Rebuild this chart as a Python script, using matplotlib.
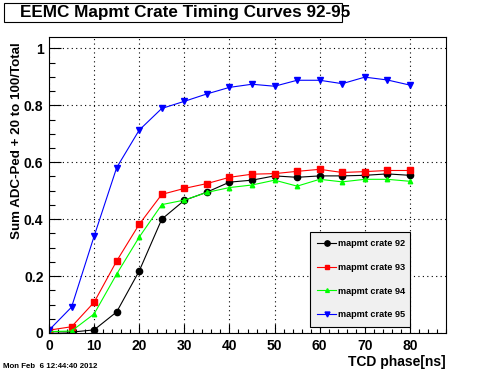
import matplotlib
matplotlib.use('Agg')
import matplotlib.pyplot as plt
from matplotlib.patches import Rectangle
from matplotlib.ticker import MultipleLocator

# TCD phase values (ns)
phase = [0, 5, 10, 15, 20, 25, 30, 35, 40, 45, 50, 55, 60, 65, 70, 75, 80]

# Sum ADC-Ped + 20 to 100 / Total, per crate
crate92 = [0.005, 0.003, 0.011, 0.074, 0.218, 0.400, 0.466, 0.495, 0.530, 0.537,
           0.552, 0.547, 0.552, 0.552, 0.554, 0.559, 0.554]
crate93 = [0.010, 0.022, 0.108, 0.253, 0.382, 0.487, 0.508, 0.525, 0.547, 0.558,
           0.560, 0.568, 0.575, 0.564, 0.567, 0.571, 0.571]
crate94 = [0.005, 0.007, 0.067, 0.207, 0.337, 0.451, 0.467, 0.494, 0.511, 0.520,
           0.537, 0.516, 0.540, 0.531, 0.540, 0.540, 0.533]
crate95 = [0.010, 0.091, 0.340, 0.581, 0.713, 0.789, 0.814, 0.840, 0.863, 0.874,
           0.867, 0.888, 0.888, 0.876, 0.899, 0.889, 0.871]

labels = ["mapmt crate 92", "mapmt crate 93", "mapmt crate 94", "mapmt crate 95"]
colors = ["black", "red", "#00ff00", "blue"]
markers = ["o", "s", "^", "v"]
msizes = [4.5, 4.2, 3.2, 4.2]

plt.rcParams['font.family'] = 'Liberation Sans'
plt.rcParams['font.weight'] = 'bold'

W, H = 496, 372
fig = plt.figure(figsize=(W / 100, H / 100), dpi=100)
ax = fig.add_axes([49 / W, 1 - 333 / H, (446 - 49) / W, (333 - 37) / H])

series = [crate92, crate93, crate94, crate95]
for vals, lab, c, m, ms in zip(series, labels, colors, markers, msizes):
    ax.plot(phase, vals, color=c, marker=m, markersize=ms, linewidth=0.8,
            markeredgecolor=c, markerfacecolor=c, label=lab)

ax.set_xlim(0, 88)
ax.set_ylim(0, 1.04)
ax.xaxis.set_major_locator(MultipleLocator(10))
ax.xaxis.set_minor_locator(MultipleLocator(2))
ax.yaxis.set_major_locator(MultipleLocator(0.2))
ax.yaxis.set_minor_locator(MultipleLocator(0.05))
ax.set_xticks([0, 10, 20, 30, 40, 50, 60, 70, 80])
ax.set_yticks([0, 0.2, 0.4, 0.6, 0.8, 1.0])
ax.set_yticklabels(["0", "0.2", "0.4", "0.6", "0.8", "1"])

ax.tick_params(axis='x', which='major', direction='in', length=6.5, width=0.8,
               labelsize=10, pad=4, top=False)
ax.tick_params(axis='x', which='minor', direction='in', length=3.2, width=0.8, top=False)
ax.tick_params(axis='y', which='major', direction='in', length=8.6, width=0.8,
               labelsize=10, pad=4, right=False)
ax.tick_params(axis='y', which='minor', direction='in', length=4.3, width=0.8, right=False)
for sp in ax.spines.values():
    sp.set_linewidth(0.8)

ax.grid(True, which='major', color='black', linestyle=(0, (1, 3)), linewidth=0.8)
ax.set_axisbelow(True)

ax.set_xlabel("TCD phase[ns]", fontsize=10, fontweight='bold')
ax.xaxis.set_label_coords(1.0, -0.075)
ax.xaxis.label.set_horizontalalignment('right')
ax.set_ylabel("Sum ADC-Ped + 20 to 100/Total", fontsize=9.6, fontweight='bold')
ax.yaxis.set_label_coords(-0.066, 0.983)
ax.yaxis.label.set_horizontalalignment('right')

leg = ax.legend(loc='upper left', bbox_to_anchor=(310 / W, 1 - 327 / H, 100 / W, 95 / H),
                bbox_transform=fig.transFigure, mode='expand', borderaxespad=0,
                fontsize=6.6, numpoints=1, handlelength=2.0, handletextpad=0.2,
                labelspacing=1.6, borderpad=0.8, fancybox=False, framealpha=1,
                edgecolor='black', facecolor='#f0f0f0', markerscale=0.85)
leg.get_frame().set_linewidth(0.8)

# title box
fig.patches.append(Rectangle((4 / W, 1 - 22 / H), 338 / W, 19 / H, transform=fig.transFigure,
                             facecolor='white', edgecolor='black', linewidth=0.8))
fig.text(20 / W, 1 - 12.5 / H, "EEMC Mapmt Crate Timing Curves 92-95", fontsize=12.3,
         fontweight='bold', ha='left', va='center')

fig.text(3 / W, 1 - 366 / H, "Mon Feb  6 12:44:40 2012", fontsize=5.7,
         fontweight='bold', ha='left', va='center')

fig.savefig("out.png", dpi=100)
